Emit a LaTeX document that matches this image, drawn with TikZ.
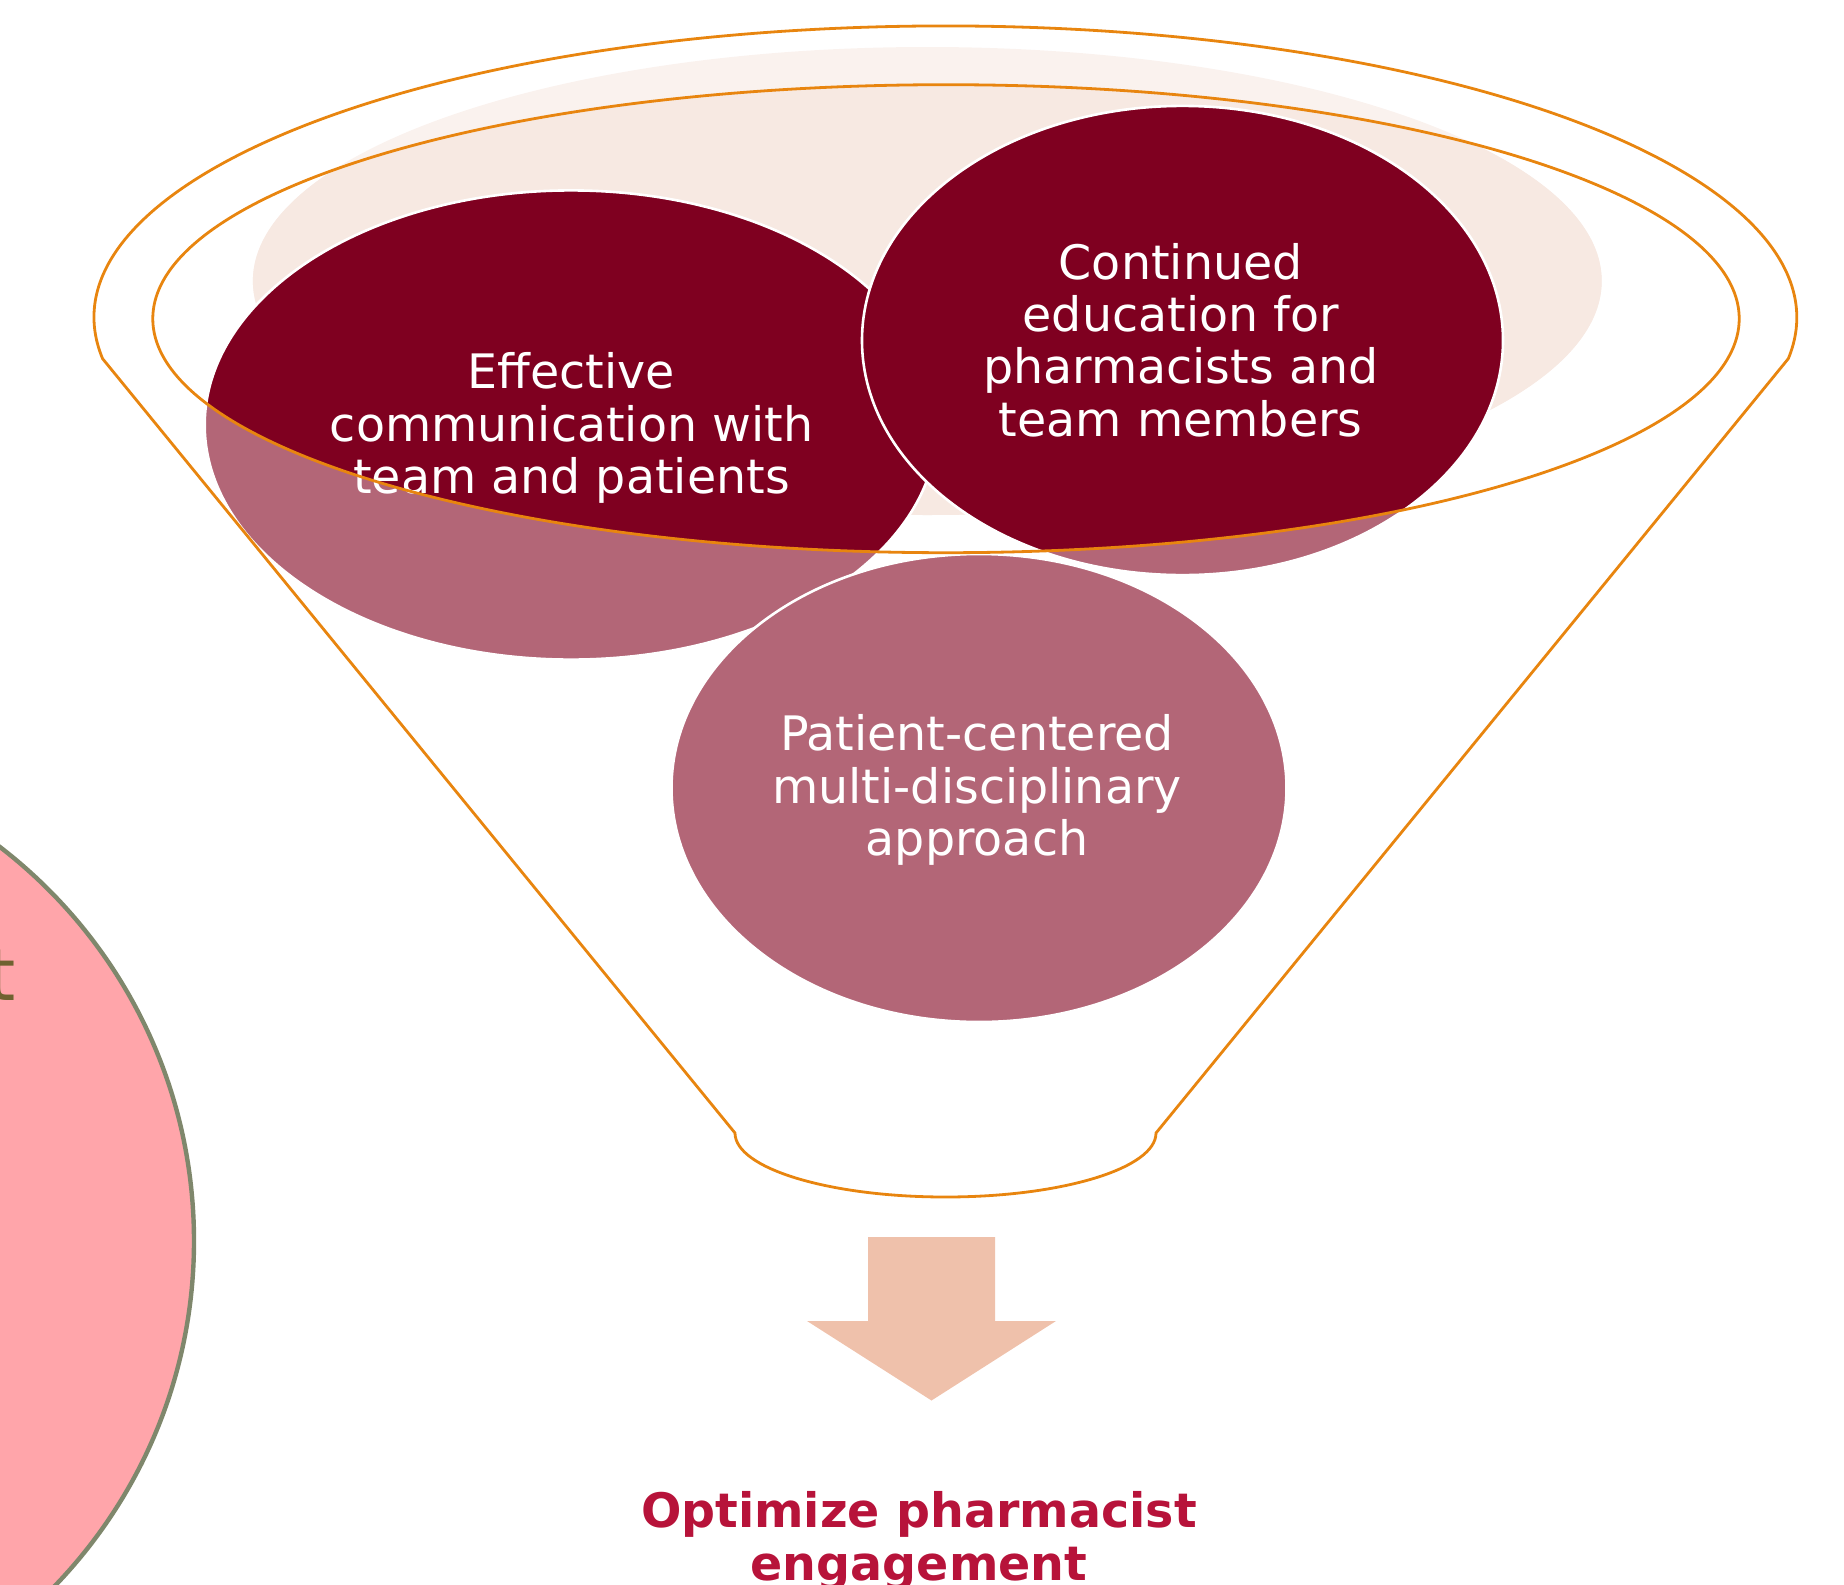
\documentclass[tikz,border=0pt]{standalone}
\usepackage{fontspec}
\setmainfont{DejaVu Sans}
\usetikzlibrary{calc}
\definecolor{rimorange}{HTML}{E8850F}
\definecolor{wine}{HTML}{7F0020}
\definecolor{winelight}{HTML}{B36677}
\definecolor{peachout}{HTML}{FAF2EE}
\definecolor{peachin}{HTML}{F7E9E2}
\definecolor{arrowpeach}{HTML}{EFC1AB}
\definecolor{crimson}{HTML}{B7133A}
\definecolor{blobpink}{HTML}{FFA5AA}
\definecolor{blobedge}{HTML}{7F876C}
\definecolor{olivetext}{HTML}{6F6230}
\newcommand{\rimclip}{\clip (946,318.7) ellipse [x radius=793.2, y radius=234];}
\def\bubble(#1)(#2:#3){%
  \fill[winelight] (#1) ellipse [x radius=#2, y radius=#3];
  \begin{scope}\rimclip\fill[wine] (#1) ellipse [x radius=#2, y radius=#3];\end{scope}
  \draw[white, line width=1.3pt] (#1) ellipse [x radius=#2, y radius=#3];}
\tikzset{
  rim/.style={draw=rimorange, line width=1.4pt},
  bubbletext/.style={text=white, align=center, inner sep=0pt, font=\fontsize{23.75}{26.2}\selectfont},
}

\begin{document}
\begin{tikzpicture}[x=0.5pt, y=-0.5pt]
			%%%%% START %%%%%
			\useasboundingbox (0,0) rectangle (1844,1585);
			\clip (0,0) rectangle (1844,1585);
			
			\draw[fill=blobpink, draw=blobedge, line width=2.2pt] (-303,1241) circle [radius=497];
			\node[text=olivetext, anchor=base east, inner sep=0pt, font=\fontsize{36}{42}\selectfont] (cutt) at (16,1000) {t};
			
			\fill[peachout] (927.3,281) ellipse [x radius=674.4, y radius=234];
			\begin{scope}\rimclip\fill[peachin] (927.3,281) ellipse [x radius=674.4, y radius=234];\end{scope}
			
			\bubble(571,425)(366.3:234.6)
			\bubble(1182.5,340.5)(320.5:234.6)
			\bubble(979,788)(307.5:234)
			
			\node[bubbletext] (effcomm) at (571.5,428) {Effective\\communication with\\team and patients};
			\node[bubbletext] (contedu) at (1180.7,340) {Continued\\education for\\pharmacists and\\team members};
			\node[bubbletext] (patcent) at (977,790) {Patient-centered\\multi-disciplinary\\approach};
			
			\draw[rim] (946,318.7) ellipse [x radius=793.2, y radius=234];
			\draw[rim] (102.6,358.7) arc [start angle=171.88, end angle=368.12, x radius=851.4, y radius=291.6]
				-- (1156,1133) arc [start angle=0, end angle=180, x radius=210.5, y radius=64] -- cycle;
			
			\fill[arrowpeach] (868,1237) -- (995,1237) -- (995,1321) -- (1056,1321) -- (931.5,1400.5)
				-- (807,1321) -- (868,1321) -- cycle;
			\node[text=crimson, align=center, inner sep=0pt, font=\bfseries\fontsize{23.75}{26.5}\selectfont] (optimize) at (919,1541) {Optimize pharmacist\\engagement};
			%%%%% END %%%%%
\end{tikzpicture}
\end{document}
